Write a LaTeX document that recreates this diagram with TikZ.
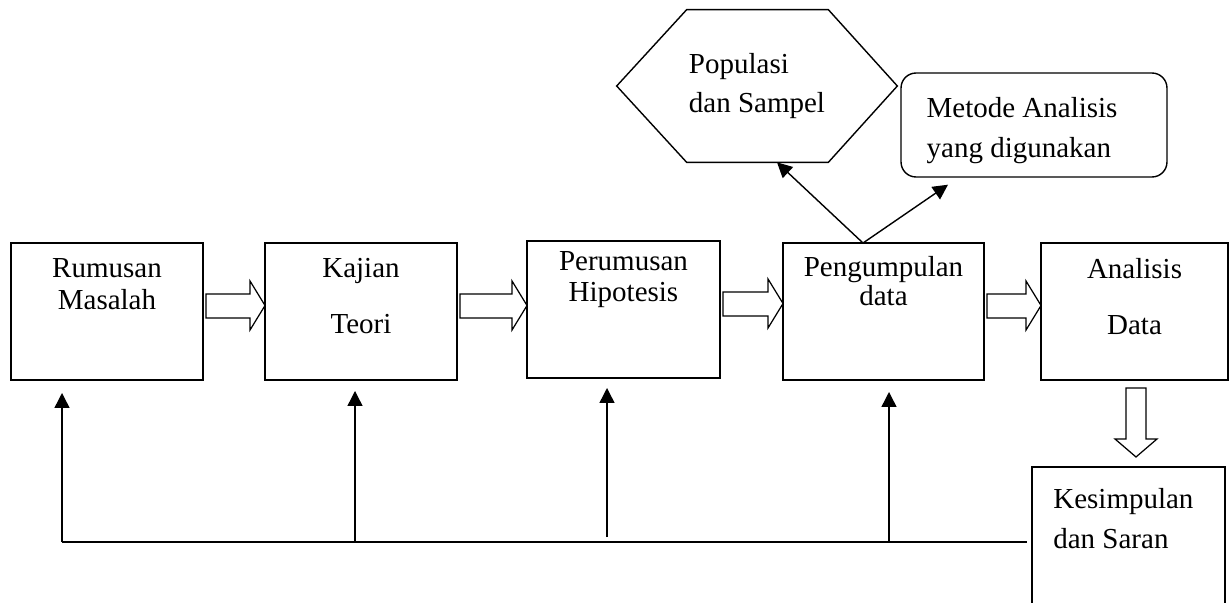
\documentclass[tikz,border=0pt]{standalone}
\usepackage{fontspec}
\setmainfont{Liberation Serif}
\usetikzlibrary{positioning,arrows.meta,calc}

% hollow block arrow from the east side of #1 to the west side of #2
\newcommand{\hollowarrow}[2]{%
  \draw[hollow] ($(#1.east)+(3,-17.5)$) -- ($(#1.east -| #2.west)+(-15,-17.5)$)
    -- ($(#1.east -| #2.west)+(-15,-30.5)$) -- ($(#1.east -| #2.west)+(0,-6)$)
    -- ($(#1.east -| #2.west)+(-15,18.5)$) -- ($(#1.east -| #2.west)+(-15,6.5)$)
    -- ($(#1.east)+(3,6.5)$) -- cycle;}

\begin{document}
\begin{tikzpicture}[
  x=0.02cm, y=-0.02cm,
  every node/.style={font=\fontsize{16.5}{18.5}\selectfont},
  box/.style={draw, line width=0.8pt, minimum height=2.74cm, inner sep=0pt, outer sep=0pt},
  txt/.style={align=center, inner sep=0pt},
  hollow/.style={draw, line width=0.7pt, fill=white},
  fbarrow/.style={-{Triangle[length=0.3cm, width=0.3cm]}, line width=0.8pt},
  node distance=0.3cm
]
\useasboundingbox (0,0) rectangle (1230,602);
\clip (0,0) rectangle (1230,602);

\node[box, minimum width=3.84cm] (rumusan) at (107,311.5) {};
\node[box, minimum width=3.84cm] (kajian) at (361,311.5) {};
\node[box, minimum width=3.86cm] (perumusan) at (623.5,309.5) {};
\node[box, minimum width=4.02cm] (pengumpulan) at (883.5,311.5) {};
\node[box, minimum width=3.74cm] (analisis) at (1134.5,311.5) {};
\node[box, minimum width=3.86cm, minimum height=2.9cm] (kesimpulan) at (1128.5,539.5) {};

\node[txt, below=0.3cm of rumusan.north] (rumusan-t) {Rumusan\\Masalah};
\node[txt, below=0.3cm of kajian.north] (kajian-t) {Kajian\\[13.4pt]Teori};
\node[txt, below=0.2cm of perumusan.north] (perumusan-t) {Perumusan\\[-1pt]Hipotesis};
\node[txt, below=0.26cm of pengumpulan.north] (pengumpulan-t) {Pengumpulan\\[-2pt]data};
\node[txt, below=0.3cm of analisis.north] (analisis-t) {Analisis\\[13.4pt]Data};
\node[txt, align=left, below right=0.42cm and 0.42cm of kesimpulan.north west] (kesimpulan-t) {Kesimpulan\\[4.3pt]dan Saran};

% hexagon
\node[txt, align=left, minimum width=5.6cm, minimum height=3.04cm] (populasi) at (757,86) {Populasi\\[3.7pt]dan Sampel};
\draw[line width=0.8pt] (populasi.west) -- ([xshift=1.4cm]populasi.north west)
  -- ([xshift=-1.38cm]populasi.north east) -- (populasi.east)
  -- ([xshift=-1.38cm]populasi.south east) -- ([xshift=1.4cm]populasi.south west) -- cycle;

\node[draw, line width=0.8pt, rounded corners=0.3cm, minimum width=5.32cm, minimum height=2.08cm] (metode) at (1034,125) {};
\node[txt, align=left, below right=0.5cm and 0.52cm of metode.north west] (metode-t) {Metode Analisis\\[4.3pt]yang digunakan};

\draw[fbarrow] ([xshift=-0.41cm]pengumpulan.north) -- ([xshift=0.4cm]populasi.south);
\draw[fbarrow] ([xshift=-0.41cm]pengumpulan.north) -- ([xshift=-1.72cm, yshift=-0.14cm]metode.south);

\hollowarrow{rumusan}{kajian}
\hollowarrow{kajian}{perumusan}
\hollowarrow{perumusan}{pengumpulan}
\hollowarrow{pengumpulan}{analisis}

\draw[hollow] ($(analisis.south)+(-8.5,8)$) -- ($(analisis.south)+(11.5,8)$)
  -- ($(analisis.south)+(11.5,59)$) -- ($(analisis.south)+(22.5,59)$)
  -- ($(analisis.south)+(1.5,77)$) -- ($(analisis.south)+(-19.5,59)$)
  -- ($(analisis.south)+(-8.5,59)$) -- cycle;

% feedback lines
\coordinate (fb) at (62,542);
\draw[line width=0.8pt] (fb) -- ([xshift=-0.1cm]kesimpulan.west |- fb);
\draw[fbarrow] ([xshift=-0.9cm]rumusan.south |- fb) -- ([xshift=-0.9cm, yshift=-0.26cm]rumusan.south);
\draw[fbarrow] ([xshift=-0.12cm]kajian.south |- fb) -- ([xshift=-0.12cm, yshift=-0.22cm]kajian.south);
\draw[fbarrow] ([xshift=-0.33cm, yshift=0.1cm]perumusan.south |- fb) -- ([xshift=-0.33cm, yshift=-0.2cm]perumusan.south);
\draw[fbarrow] ([xshift=0.11cm]pengumpulan.south |- fb) -- ([xshift=0.11cm, yshift=-0.24cm]pengumpulan.south);
\end{tikzpicture}
\end{document}
